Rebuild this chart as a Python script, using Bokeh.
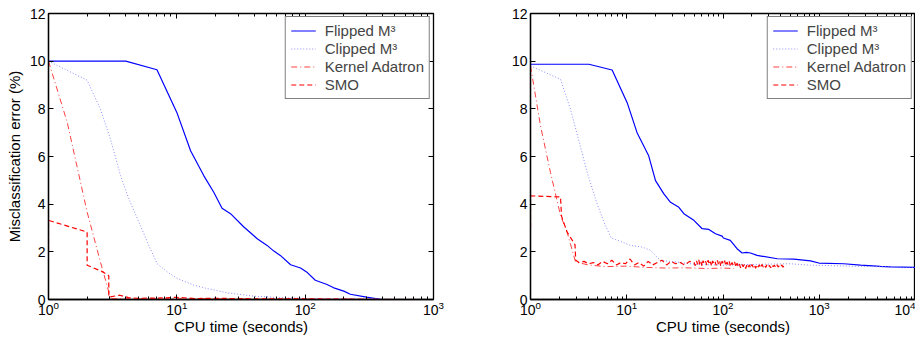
from bokeh.plotting import figure
from bokeh.models import LinearAxis, FixedTicker, Legend, LegendItem
from bokeh.layouts import row
from bokeh.embed import file_html
from bokeh.resources import INLINE

# ---------------- data ----------------
# Left panel (x: 1..1000 s)
L_flip_x = [1, 4, 7, 10, 12.8, 16.2, 19.4, 22.5, 26.2, 33.3, 42.3, 50.5, 57, 64, 77, 92, 104, 120, 148, 167, 200, 225, 300, 386, 1000]
L_flip_y = [10.0, 10.0, 9.64, 7.85, 6.24, 5.2, 4.5, 3.83, 3.6, 3.04, 2.55, 2.27, 2.03, 1.85, 1.46, 1.32, 1.13, 0.81, 0.63, 0.49, 0.35, 0.22, 0.1, 0.01, 0.0]

L_clip_x = [1, 2, 2.54, 3.04, 3.64, 4.23, 5.2, 6.05, 7.03, 8.4, 10.1, 13.6, 17.2, 24.7, 39.8, 68, 124, 1000]
L_clip_y = [10.0, 9.2, 7.99, 6.73, 5.2, 4.22, 3.1, 2.27, 1.5, 1.16, 0.88, 0.6, 0.46, 0.28, 0.14, 0.07, 0.03, 0.0]

L_ka_x = [1, 1.4, 2.0, 2.54, 2.95, 3.0, 5, 10, 30, 100, 300, 1000]
L_ka_y = [10.0, 7.43, 3.67, 1.57, 0.32, 0.04, 0.03, 0.05, 0.02, 0.02, 0.01, 0.0]

L_smo_x = [1, 1, 2, 2, 2.6, 2.95, 2.95, 3.6, 4.2, 5, 7, 10, 14, 20, 40, 80, 150, 400]
L_smo_y = [2.0, 3.32, 2.83, 1.44, 1.18, 1.0, 0.1, 0.18, 0.08, 0.05, 0.06, 0.09, 0.04, 0.05, 0.03, 0.03, 0.02, 0.0]

# Right panel (x: 1..10000 s)
R_flip_x = [1, 4.04, 7.05, 10.1, 12.8, 16.9, 19.9, 24.3, 28.5, 34.8, 39.2, 49.8, 60.8, 71.3, 83.6, 98, 101, 119, 140, 158, 175, 193, 226, 366, 545, 811, 991, 1800, 2690, 4330, 5500, 10000]
R_flip_y = [9.87, 9.87, 9.63, 8.26, 7.0, 6.03, 4.99, 4.43, 4.08, 3.87, 3.6, 3.32, 2.97, 2.94, 2.76, 2.66, 2.58, 2.48, 2.13, 1.95, 1.98, 1.95, 1.85, 1.71, 1.69, 1.62, 1.53, 1.5, 1.44, 1.39, 1.37, 1.35]

R_clip_x = [1, 2.05, 2.6, 3.18, 3.88, 4.73, 5.78, 6.89, 8.6, 10.9, 14.5, 17.7, 20.7, 22.4, 33.4, 50, 100, 245, 500, 810, 2700, 10000]
R_clip_y = [9.8, 9.24, 7.99, 6.66, 5.34, 4.22, 3.25, 2.58, 2.44, 2.27, 2.2, 2.06, 1.78, 1.64, 1.57, 1.48, 1.44, 1.48, 1.5, 1.44, 1.39, 1.35]

R_ka_x = [1, 1.27, 1.61, 2.05, 2.4, 2.94, 4, 6, 10, 15, 25, 40, 70, 100, 130]
R_ka_y = [9.8, 7.29, 5.34, 3.53, 2.83, 1.57, 1.45, 1.38, 1.4, 1.35, 1.32, 1.33, 1.3, 1.32, 1.3]

R_smo_x = [1, 1, 2.05, 2.1, 2.4, 2.9, 2.95, 3.2, 3.6, 4.0, 4.5, 5.0, 5.6, 6.3, 7.0, 7.8, 8.7, 9.7, 10.8, 12,
           13.4, 15, 16.7, 18.6, 20.8, 23.2, 25.9, 28.9, 32.2, 36, 40, 45,
           50, 51.5, 53, 54.5, 56, 57.5, 59, 60.5, 62, 64, 66, 68, 70, 72, 74, 76, 78, 80, 82.5, 85,
           87.5, 90, 92.5, 95, 98, 101, 104, 107, 110, 113, 116, 120, 124, 128, 132, 136, 140, 144, 148, 152,
           157, 162, 167, 172, 177, 182, 188, 194, 200, 206, 212, 218, 225, 232, 239, 246, 254, 262, 270, 278,
           286, 295, 304, 313, 322, 332, 342, 352, 363, 374, 385, 397, 409, 421, 433, 446]
R_smo_y = [3.0, 4.35, 4.3, 3.5, 2.83, 2.3, 1.65, 1.55, 1.6, 1.5, 1.55, 1.45, 1.6, 1.5, 1.65, 1.45, 1.55, 1.5, 1.7, 1.45,
           1.55, 1.4, 1.6, 1.45, 1.55, 1.65, 1.45, 1.6, 1.5, 1.55, 1.45, 1.6,
           1.55, 1.42, 1.62, 1.48, 1.66, 1.45, 1.58, 1.40, 1.63, 1.50, 1.60, 1.44, 1.65, 1.47, 1.58, 1.41, 1.62, 1.52, 1.60, 1.43,
           1.64, 1.46, 1.59, 1.40, 1.61, 1.49, 1.63, 1.42, 1.57, 1.46, 1.60, 1.38, 1.55, 1.44, 1.58, 1.36, 1.52, 1.40, 1.50, 1.33,
           1.48, 1.38, 1.47, 1.30, 1.46, 1.36, 1.45, 1.32, 1.47, 1.35, 1.44, 1.31, 1.46, 1.37, 1.45, 1.33, 1.47, 1.36, 1.44, 1.34,
           1.46, 1.37, 1.43, 1.33, 1.45, 1.38, 1.44, 1.35, 1.46, 1.36, 1.43, 1.37, 1.45, 1.36, 1.42, 1.40]

Y_TICKS = [0, 2, 4, 6, 8, 10, 12]
LABELS = ["Flipped M\u00b3", "Clipped M\u00b3", "Kernel Adatron", "SMO"]
X_LABEL = "CPU time (seconds)"
Y_LABEL = "Misclassification error (%)"

FONT = "Liberation Sans"
H = 337


def make_panel(n_dec, series, width, border_left, border_right, ylabel):
    xmax = 10 ** n_dec
    decades = [10 ** k for k in range(n_dec + 1)]
    minors = [m * 10 ** k for k in range(n_dec) for m in range(2, 10)]
    xt = FixedTicker(ticks=decades, minor_ticks=minors)
    yt = FixedTicker(ticks=Y_TICKS)

    p = figure(width=width, height=H, x_axis_type="log", x_range=(1, xmax), y_range=(0, 12),
               output_backend="svg", toolbar_location=None,
               min_border_left=border_left, min_border_right=border_right,
               min_border_top=13, min_border_bottom=28)
    p.grid.visible = False
    p.outline_line_color = "black"
    p.outline_line_width = 1.3
    p.background_fill_color = "white"
    p.border_fill_color = "white"

    p.xaxis.ticker = xt
    p.yaxis.ticker = yt
    for ax in (p.xaxis[0], p.yaxis[0]):
        ax.major_tick_in = 5
        ax.major_tick_out = 0
        ax.minor_tick_in = 3
        ax.minor_tick_out = 0
        ax.major_label_text_font = FONT
        ax.major_label_text_font_size = "14px"
        ax.major_label_text_color = "black"
        ax.axis_label_text_font = FONT
        ax.axis_label_text_font_size = "15px"
        ax.axis_label_text_font_style = "normal"
        ax.axis_label_text_color = "black"
        ax.axis_line_color = "black"
        ax.axis_line_width = 1.3
        ax.major_label_standoff = 1
        ax.axis_label_standoff = 0
    p.yaxis[0].major_label_standoff = 3
    p.yaxis[0].axis_label_standoff = 4
    p.yaxis[0].minor_tick_line_color = None
    p.xaxis[0].axis_label = X_LABEL
    if ylabel:
        p.yaxis[0].axis_label = Y_LABEL

    top = LinearAxis(ticker=xt, major_tick_in=5, major_tick_out=0, minor_tick_in=3, minor_tick_out=0,
                     major_label_text_font_size="1px", major_label_text_color=None,
                     major_label_standoff=0, axis_line_color="black")
    right = LinearAxis(ticker=yt, major_tick_in=5, major_tick_out=0, minor_tick_line_color=None,
                       major_label_text_font_size="1px", major_label_text_color=None,
                       major_label_standoff=0, axis_line_color="black")
    p.add_layout(top, "above")
    p.add_layout(right, "right")

    (fx, fy), (cx, cy), (kx, ky), (sx, sy) = series
    r1 = p.line(fx, fy, line_color="#0000ff", line_width=1.2)
    r2 = p.line(cx, cy, line_color="#8c8cff", line_width=1, line_dash="1 2")
    r3 = p.line(kx, ky, line_color="#ff4040", line_width=1, line_dash="6 3 1 3")
    r4 = p.line(sx, sy, line_color="#ff0000", line_width=1.2, line_dash="5 3")

    legend = Legend(items=[LegendItem(label=LABELS[i], renderers=[r]) for i, r in enumerate([r1, r2, r3, r4])],
                    location="top_right")
    legend.border_line_color = "black"
    legend.border_line_width = 1.6
    legend.label_text_font = FONT
    legend.label_text_font_size = "15px"
    legend.label_height = 17
    legend.glyph_height = 17
    legend.glyph_width = 25
    legend.label_standoff = 9
    legend.spacing = 1
    legend.padding = 5
    legend.margin = 3
    legend.background_fill_alpha = 1
    p.add_layout(legend)
    return p


left = make_panel(3, [(L_flip_x, L_flip_y), (L_clip_x, L_clip_y), (L_ka_x, L_ka_y), (L_smo_x, L_smo_y)],
                  460, 48, 27, True)
right = make_panel(4, [(R_flip_x, R_flip_y), (R_clip_x, R_clip_y), (R_ka_x, R_ka_y), (R_smo_x, R_smo_y)],
                   455, 70, 0, False)

layout = row(left, right)
open("out.html", "w").write(file_html(layout, INLINE))
